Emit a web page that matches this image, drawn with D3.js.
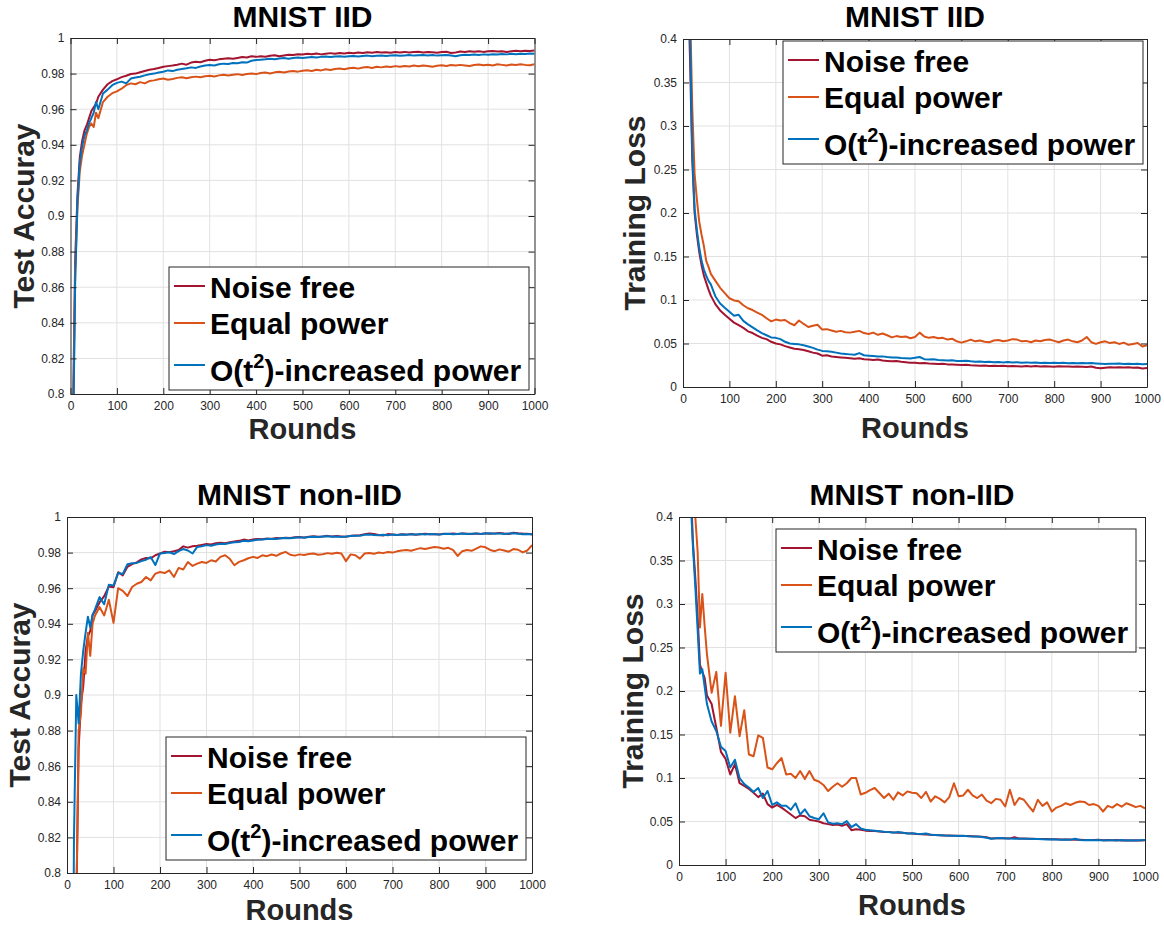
<!DOCTYPE html>
<html>
<head>
<meta charset="utf-8">
<script src="https://cdn.jsdelivr.net/npm/d3@7"></script>
<style>
  html, body { margin: 0; padding: 0; background: #fff; }
  svg { display: block; font-family: "Liberation Sans", Arial, Helvetica, sans-serif; }
</style>
</head>
<body>
<svg id="chart" width="1164" height="925"></svg>
<script>
// series labels and colours (MATLAB defaults)
const seriesNames = ["Noise free", "Equal power", "O(t2)-increased power"];
const seriesColors = ["#A2142F", "#D95319", "#0072BD"];

const roundTicks = [0, 100, 200, 300, 400, 500, 600, 700, 800, 900, 1000];
const accTicks = [0.8, 0.82, 0.84, 0.86, 0.88, 0.9, 0.92, 0.94, 0.96, 0.98, 1];
const lossTicks = [0, 0.05, 0.1, 0.15, 0.2, 0.25, 0.3, 0.35, 0.4];

// sampled rounds (denser at the start)
const rounds = [5, 10, 15, 20, 25, 30, 35, 40, 45, 50, 55, 60].concat(d3.range(70, 1001, 10));

// ---- MNIST IID, test accuracy
const accIidNoiseFree = [0.78, 0.875, 0.912, 0.933, 0.942, 0.948, 0.951, 0.955, 0.959, 0.961, 0.963, 0.967,
  0.971, 0.974, 0.9758, 0.9768, 0.978, 0.9788, 0.9798, 0.98, 0.9808, 0.9815,
  0.9822, 0.9826, 0.9832, 0.9838, 0.9842, 0.9845, 0.985, 0.9856, 0.985, 0.9862,
  0.9866, 0.9864, 0.9872, 0.9878, 0.9875, 0.988, 0.9884, 0.9886, 0.9883, 0.9888,
  0.9893, 0.989, 0.9897, 0.9894, 0.9898, 0.9895, 0.99, 0.9903, 0.9897, 0.9902,
  0.9906, 0.9904, 0.9909, 0.9907, 0.9911, 0.9909, 0.9913, 0.9908, 0.9912, 0.9915,
  0.9911, 0.9916, 0.9913, 0.9917, 0.9914, 0.9919, 0.9916, 0.992, 0.9917, 0.9921,
  0.9918, 0.992, 0.9917, 0.9921, 0.9919, 0.9922, 0.9918, 0.9921, 0.9923, 0.9919,
  0.9922, 0.992, 0.9917, 0.9921, 0.9923, 0.9916, 0.9919, 0.9924, 0.9922, 0.9925,
  0.9923, 0.9926, 0.9922, 0.9925, 0.9927, 0.9924, 0.9926, 0.9921, 0.9925, 0.9928,
  0.9926, 0.9929, 0.9927, 0.993];
const accIidEqual = [0.77, 0.868, 0.905, 0.925, 0.934, 0.94, 0.946, 0.95, 0.952, 0.95, 0.958, 0.955,
  0.964, 0.967, 0.969, 0.97, 0.9715, 0.9735, 0.9745, 0.974, 0.9752, 0.9745,
  0.9758, 0.9762, 0.9768, 0.9772, 0.9766, 0.977, 0.9776, 0.9779, 0.9774, 0.978,
  0.9783, 0.9779, 0.9785, 0.9788, 0.9784, 0.979, 0.9793, 0.9789, 0.9794, 0.9797,
  0.9792, 0.9798, 0.9801, 0.9797, 0.9803, 0.9806, 0.9801, 0.9807, 0.981, 0.9806,
  0.9812, 0.9815, 0.9811, 0.9816, 0.9819, 0.9815, 0.9822, 0.9818, 0.9824, 0.982,
  0.9826, 0.9829, 0.9824, 0.983, 0.9833, 0.9828, 0.9834, 0.9837, 0.9832, 0.9838,
  0.9835, 0.984, 0.9837, 0.9842, 0.9838, 0.9843, 0.984, 0.9845, 0.9841, 0.9846,
  0.9843, 0.9839, 0.9844, 0.9847, 0.9843, 0.9848, 0.9845, 0.9849, 0.9846, 0.9843,
  0.9848, 0.9851, 0.9847, 0.985, 0.9846, 0.9852, 0.9849, 0.9846, 0.9851, 0.9848,
  0.9852, 0.9849, 0.9847, 0.9852];
const accIidIncreased = [0.76, 0.862, 0.908, 0.93, 0.939, 0.945, 0.948, 0.952, 0.955, 0.958, 0.964, 0.96,
  0.9688, 0.971, 0.9735, 0.9748, 0.9755, 0.9745, 0.9772, 0.9778, 0.9782, 0.979,
  0.9796, 0.98, 0.9806, 0.981, 0.9818, 0.9814, 0.9822, 0.9826, 0.983, 0.9835,
  0.9832, 0.984, 0.9845, 0.9848, 0.9846, 0.9852, 0.9856, 0.9854, 0.986, 0.9858,
  0.9864, 0.9862, 0.9872, 0.9876, 0.9878, 0.988, 0.9883, 0.9881, 0.9885, 0.9887,
  0.9884, 0.9888, 0.989, 0.9888, 0.9891, 0.9893, 0.989, 0.9894, 0.9896, 0.9893,
  0.9896, 0.9898, 0.9895, 0.9897, 0.9899, 0.9896, 0.9899, 0.9901, 0.9897, 0.99,
  0.9902, 0.9899, 0.9901, 0.9903, 0.99, 0.9902, 0.9904, 0.9901, 0.9903, 0.9905,
  0.9902, 0.9904, 0.9901, 0.9903, 0.9905, 0.9902, 0.9898, 0.9903, 0.9906, 0.9904,
  0.9907, 0.9905, 0.9908, 0.9906, 0.9909, 0.9907, 0.991, 0.9908, 0.9911, 0.9909,
  0.9912, 0.991, 0.9913, 0.9912];

// ---- MNIST IID, training loss
const lossIidNoiseFree = [0.6, 0.48, 0.38, 0.26, 0.2, 0.175, 0.155, 0.14, 0.128, 0.12, 0.112, 0.105,
  0.095, 0.088, 0.083, 0.0785, 0.074, 0.071, 0.068, 0.064, 0.062, 0.059,
  0.0565, 0.055, 0.052, 0.05, 0.049, 0.047, 0.0455, 0.044, 0.0435, 0.0425,
  0.041, 0.0395, 0.0385, 0.036, 0.0365, 0.035, 0.0345, 0.034, 0.0335, 0.033,
  0.0325, 0.033, 0.032, 0.0315, 0.031, 0.0315, 0.0305, 0.03, 0.0295, 0.0298,
  0.029, 0.0285, 0.028, 0.0278, 0.0272, 0.0275, 0.027, 0.0268, 0.0265, 0.0268,
  0.026, 0.0258, 0.0255, 0.0252, 0.0256, 0.025, 0.0248, 0.0245, 0.0248, 0.0242,
  0.0245, 0.024, 0.0243, 0.0238, 0.0242, 0.0239, 0.0236, 0.024, 0.0237, 0.0241,
  0.0235, 0.0238, 0.0236, 0.0234, 0.0238, 0.0235, 0.0237, 0.0233, 0.0236, 0.0234,
  0.0231, 0.0235, 0.0222, 0.0216, 0.0222, 0.0226, 0.0224, 0.0227, 0.0223, 0.0226,
  0.0221, 0.0224, 0.0213, 0.0218];
const lossIidEqual = [0.6, 0.52, 0.44, 0.32, 0.245, 0.215, 0.19, 0.175, 0.162, 0.145, 0.138, 0.13,
  0.122, 0.114, 0.108, 0.102, 0.0995, 0.0985, 0.094, 0.0905, 0.0885, 0.0855,
  0.083, 0.079, 0.0755, 0.0775, 0.0765, 0.077, 0.0735, 0.071, 0.0765, 0.0725,
  0.069, 0.0705, 0.0715, 0.066, 0.0665, 0.065, 0.0635, 0.0645, 0.063, 0.0625,
  0.0635, 0.0645, 0.062, 0.061, 0.0625, 0.06, 0.0615, 0.0595, 0.057, 0.0585,
  0.0575, 0.058, 0.056, 0.0575, 0.0625, 0.058, 0.0565, 0.0575, 0.056, 0.0565,
  0.0545, 0.0555, 0.0525, 0.051, 0.0525, 0.0545, 0.0525, 0.0535, 0.052, 0.0515,
  0.0535, 0.054, 0.0525, 0.0535, 0.055, 0.0545, 0.0525, 0.053, 0.0515, 0.0535,
  0.0525, 0.054, 0.0545, 0.053, 0.0515, 0.0535, 0.0545, 0.0525, 0.0515, 0.0535,
  0.0575, 0.0515, 0.0495, 0.0515, 0.0525, 0.0505, 0.0515, 0.0495, 0.051, 0.0485,
  0.0495, 0.0505, 0.0465, 0.048];
const lossIidIncreased = [0.6, 0.5, 0.41, 0.27, 0.205, 0.18, 0.16, 0.145, 0.135, 0.128, 0.122, 0.118,
  0.104, 0.096, 0.091, 0.0865, 0.082, 0.083, 0.076, 0.072, 0.0685, 0.065,
  0.062, 0.0595, 0.057, 0.0565, 0.055, 0.052, 0.05, 0.0495, 0.049, 0.048,
  0.0465, 0.045, 0.043, 0.0415, 0.041, 0.0405, 0.0395, 0.0385, 0.038, 0.0375,
  0.037, 0.039, 0.0365, 0.036, 0.0355, 0.035, 0.0352, 0.0345, 0.034, 0.0338,
  0.0333, 0.033, 0.0328, 0.0335, 0.0345, 0.032, 0.0315, 0.0318, 0.031, 0.0308,
  0.0305, 0.0308, 0.03, 0.0298, 0.0302, 0.0295, 0.029, 0.0292, 0.0287, 0.029,
  0.0285, 0.0288, 0.0283, 0.0286, 0.0282, 0.0285, 0.028, 0.0283, 0.0278, 0.0281,
  0.0277, 0.028, 0.0276, 0.0279, 0.0276, 0.0278, 0.0274, 0.0277, 0.0273, 0.0276,
  0.0272, 0.0275, 0.0271, 0.0268, 0.0265, 0.0268, 0.0266, 0.0269, 0.0265, 0.0267,
  0.0264, 0.0266, 0.0262, 0.0264];

// ---- MNIST non-IID, test accuracy
const accNonIidNoiseFree = [0.5, 0.6, 0.7, 0.78, 0.87, 0.895, 0.905, 0.925, 0.933, 0.936, 0.945, 0.947,
  0.952, 0.9555, 0.961, 0.9605, 0.969, 0.9672, 0.972, 0.9735, 0.9745, 0.9762,
  0.977, 0.9768, 0.9785, 0.9795, 0.9805, 0.9802, 0.9808, 0.9815, 0.9835, 0.9828,
  0.9836, 0.9838, 0.9843, 0.9848, 0.9846, 0.9852, 0.9856, 0.9853, 0.9858, 0.9863,
  0.9866, 0.9873, 0.9868, 0.9874, 0.9877, 0.9875, 0.9879, 0.9877, 0.9882, 0.988,
  0.9884, 0.9882, 0.9886, 0.9888, 0.9885, 0.9889, 0.9892, 0.9889, 0.9891, 0.9894,
  0.989, 0.9893, 0.9891, 0.9889, 0.9894, 0.9896, 0.9898, 0.9903, 0.9908, 0.9905,
  0.9899, 0.9896, 0.9904, 0.9902, 0.9899, 0.9903, 0.9901, 0.9904, 0.99, 0.9903,
  0.9906, 0.9903, 0.9905, 0.9902, 0.9906, 0.9904, 0.9907, 0.9905, 0.9908, 0.9906,
  0.9904, 0.9907, 0.9905, 0.9909, 0.9906, 0.9908, 0.991, 0.9907, 0.9905, 0.9912,
  0.9909, 0.9907, 0.9906, 0.9903];
const accNonIidEqual = [0.4, 0.5, 0.65, 0.78, 0.88, 0.89, 0.915, 0.912, 0.935, 0.922, 0.94, 0.9445,
  0.9494, 0.9447, 0.9535, 0.9405, 0.96, 0.9585, 0.9556, 0.9607, 0.9625, 0.9635,
  0.9663, 0.9644, 0.9682, 0.9691, 0.9685, 0.97, 0.9663, 0.9714, 0.9705, 0.9747,
  0.9725, 0.9738, 0.9747, 0.9742, 0.9757, 0.975, 0.9776, 0.9785, 0.9765, 0.9729,
  0.9748, 0.9757, 0.9768, 0.9776, 0.977, 0.9785, 0.978, 0.9789, 0.9782, 0.9795,
  0.9804, 0.9788, 0.9783, 0.979, 0.9786, 0.9792, 0.9795, 0.9788, 0.9791, 0.9797,
  0.9793, 0.9799, 0.9795, 0.9752, 0.979, 0.9785, 0.9766, 0.9795, 0.9798, 0.9793,
  0.9801, 0.9797, 0.9803, 0.98, 0.9807, 0.9812, 0.9815, 0.981, 0.9818, 0.9825,
  0.982, 0.9826, 0.9832, 0.9829, 0.9822, 0.9827, 0.9815, 0.9781, 0.9808, 0.9815,
  0.981, 0.9822, 0.9835, 0.983, 0.9815, 0.9808, 0.9818, 0.9812, 0.9805, 0.982,
  0.9816, 0.9801, 0.9812, 0.9842];
const accNonIidIncreased = [0.5, 0.6, 0.82, 0.9, 0.884, 0.912, 0.925, 0.935, 0.944, 0.938, 0.945, 0.948,
  0.955, 0.951, 0.962, 0.9615, 0.9685, 0.968, 0.9735, 0.974, 0.9742, 0.9752,
  0.976, 0.9775, 0.973, 0.9795, 0.9798, 0.9802, 0.9792, 0.9808, 0.982, 0.9812,
  0.9795, 0.9832, 0.9836, 0.9842, 0.9838, 0.9845, 0.985, 0.9848, 0.9854, 0.9858,
  0.986, 0.9866, 0.9864, 0.9868, 0.9872, 0.9874, 0.9876, 0.9878, 0.9877, 0.988,
  0.9882, 0.9881, 0.9884, 0.9886, 0.9884, 0.9887, 0.9889, 0.9887, 0.989, 0.9892,
  0.9889, 0.9891, 0.9888, 0.989, 0.9893, 0.9895, 0.9894, 0.99, 0.9902, 0.9899,
  0.9897, 0.99, 0.9898, 0.9901, 0.9899, 0.9902, 0.99, 0.9903, 0.9901, 0.9904,
  0.9902, 0.9905, 0.9903, 0.9901, 0.9904, 0.9906, 0.9903, 0.9905, 0.9907, 0.9904,
  0.9906, 0.9908, 0.9905, 0.9907, 0.9909, 0.9906, 0.9908, 0.9905, 0.9907, 0.9909,
  0.9906, 0.9903, 0.9905, 0.9902];

// ---- MNIST non-IID, training loss
const lossNonIidNoiseFree = [0.9, 0.8, 0.7, 0.55, 0.44, 0.37, 0.33, 0.285, 0.23, 0.222, 0.215, 0.195,
  0.185, 0.158, 0.13, 0.122, 0.104, 0.116, 0.094, 0.091, 0.0875, 0.083,
  0.078, 0.082, 0.07, 0.066, 0.069, 0.066, 0.062, 0.058, 0.054, 0.057,
  0.056, 0.052, 0.051, 0.05, 0.048, 0.047, 0.046, 0.0465, 0.045, 0.047,
  0.04, 0.041, 0.0405, 0.0395, 0.0392, 0.039, 0.0385, 0.038, 0.0378, 0.0375,
  0.0372, 0.037, 0.0365, 0.0362, 0.0355, 0.0352, 0.035, 0.0348, 0.0345, 0.0342,
  0.034, 0.0338, 0.0336, 0.0335, 0.0334, 0.0332, 0.033, 0.0328, 0.0325, 0.0318,
  0.0305, 0.0308, 0.031, 0.0308, 0.0306, 0.0318, 0.0305, 0.0304, 0.0303, 0.0301,
  0.03, 0.0299, 0.0298, 0.0296, 0.0295, 0.0294, 0.0293, 0.0292, 0.029, 0.0289,
  0.0288, 0.0287, 0.0286, 0.0289, 0.0285, 0.0286, 0.0284, 0.0286, 0.0283, 0.0285,
  0.0282, 0.0284, 0.0283, 0.0285];
const lossNonIidEqual = [1.0, 0.95, 0.85, 0.72, 0.6, 0.48, 0.4, 0.36, 0.273, 0.3115, 0.275, 0.242,
  0.198, 0.222, 0.16, 0.221, 0.152, 0.194, 0.148, 0.178, 0.127, 0.125,
  0.149, 0.146, 0.112, 0.11, 0.117, 0.123, 0.104, 0.105, 0.1, 0.108,
  0.099, 0.108, 0.098, 0.096, 0.092, 0.085, 0.09, 0.094, 0.09, 0.094,
  0.1, 0.1, 0.081, 0.083, 0.086, 0.0885, 0.0827, 0.077, 0.082, 0.075,
  0.0835, 0.08, 0.0846, 0.083, 0.0825, 0.077, 0.084, 0.073, 0.079, 0.076,
  0.072, 0.078, 0.094, 0.079, 0.08, 0.0865, 0.08, 0.077, 0.081, 0.074,
  0.071, 0.076, 0.075, 0.0673, 0.0865, 0.069, 0.077, 0.075, 0.068, 0.0615,
  0.075, 0.068, 0.072, 0.0615, 0.066, 0.068, 0.071, 0.069, 0.0715, 0.073,
  0.0725, 0.069, 0.07, 0.068, 0.0615, 0.068, 0.066, 0.07, 0.067, 0.071,
  0.069, 0.0665, 0.068, 0.065];
const lossNonIidIncreased = [0.9, 0.78, 0.66, 0.52, 0.42, 0.365, 0.32, 0.27, 0.22, 0.225, 0.205, 0.185,
  0.165, 0.154, 0.136, 0.131, 0.112, 0.121, 0.1, 0.093, 0.089, 0.084,
  0.0885, 0.077, 0.085, 0.069, 0.072, 0.068, 0.068, 0.0635, 0.071, 0.058,
  0.064, 0.056, 0.054, 0.0525, 0.0595, 0.049, 0.0475, 0.048, 0.047, 0.0505,
  0.0435, 0.047, 0.042, 0.0405, 0.04, 0.0395, 0.0388, 0.0382, 0.0378, 0.0372,
  0.038, 0.037, 0.0362, 0.0366, 0.0358, 0.0355, 0.0362, 0.0347, 0.0345, 0.0343,
  0.0339, 0.0337, 0.0336, 0.0334, 0.0336, 0.0331, 0.0329, 0.0327, 0.0322, 0.0314,
  0.0302, 0.0307, 0.0309, 0.0306, 0.0304, 0.0303, 0.0302, 0.0301, 0.0303, 0.03,
  0.0298, 0.0296, 0.0294, 0.0295, 0.0292, 0.0291, 0.0293, 0.0289, 0.0302, 0.0287,
  0.0284, 0.0286, 0.0285, 0.0288, 0.0283, 0.0285, 0.0284, 0.0282, 0.0286, 0.0283,
  0.0284, 0.0282, 0.0285, 0.0287];

const axisColor = "#262626"
, gridColor = "#e1e1e1"
, tickLen = 6;

const svg = d3.select("#chart");

const panels = [
  {id: "p1", title: "MNIST IID", yLabel: "Test Accuray", yTicks: accTicks, yDomain: [0.8, 1],
   series: [accIidNoiseFree, accIidEqual, accIidIncreased],
   left: 70.5, right: 534.5, top: 38, bottom: 394,
   titleY: 27, xLabelY: 439, yLabelX: 34, legendX: 169, legendY: 267},
  {id: "p2", title: "MNIST IID", yLabel: "Training Loss", yTicks: lossTicks, yDomain: [0, 0.4],
   series: [lossIidNoiseFree, lossIidEqual, lossIidIncreased],
   left: 683, right: 1147, top: 39, bottom: 387,
   titleY: 27, xLabelY: 438, yLabelX: 645, legendX: 783, legendY: 41},
  {id: "p3", title: "MNIST non-IID", yLabel: "Test Accuray", yTicks: accTicks, yDomain: [0.8, 1],
   series: [accNonIidNoiseFree, accNonIidEqual, accNonIidIncreased],
   left: 67, right: 532, top: 517, bottom: 873,
   titleY: 505, xLabelY: 920, yLabelX: 30, legendX: 166, legendY: 737},
  {id: "p4", title: "MNIST non-IID", yLabel: "Training Loss", yTicks: lossTicks, yDomain: [0, 0.4],
   series: [lossNonIidNoiseFree, lossNonIidEqual, lossNonIidIncreased],
   left: 679, right: 1145, top: 517, bottom: 865,
   titleY: 505, xLabelY: 915, yLabelX: 643, legendX: 776, legendY: 529}
];

const fmtY = d3.format("~g")
, fmtX = d3.format("d");

function drawPanel(p) {
  const x = d3.scaleLinear().domain([0, 1000]).range([p.left, p.right]);
  const y = d3.scaleLinear().domain(p.yDomain).range([p.bottom, p.top]);
  const g = svg.append("g").attr("class", p.id);

  svg.append("clipPath").attr("id", "clip-" + p.id)
    .append("rect")
    .attr("x", p.left).attr("y", p.top)
    .attr("width", p.right - p.left).attr("height", p.bottom - p.top);

  // grid
  g.append("g").selectAll("line").data(roundTicks.slice(1, -1)).join("line")
    .attr("x1", d => x(d)).attr("x2", d => x(d))
    .attr("y1", p.top).attr("y2", p.bottom)
    .attr("stroke", gridColor);
  g.append("g").selectAll("line").data(p.yTicks.slice(1, -1)).join("line")
    .attr("x1", p.left).attr("x2", p.right)
    .attr("y1", d => y(d)).attr("y2", d => y(d))
    .attr("stroke", gridColor);

  // lines
  const line = d3.line()
    .x((d, i) => x(rounds[i]))
    .y(d => y(d));
  g.append("g").attr("clip-path", `url(#clip-${p.id})`)
    .selectAll("path").data(p.series).join("path")
    .attr("d", d => line(d))
    .attr("fill", "none")
    .attr("stroke", (d, i) => seriesColors[i])
    .attr("stroke-width", 2)
    .attr("stroke-linejoin", "round");

  // axes, ticks pointing inward on all four sides
  const xAxisG = g.append("g").attr("transform", `translate(0,${p.bottom})`)
    .call(d3.axisBottom(x).tickValues(roundTicks).tickFormat(fmtX).tickSize(-tickLen).tickSizeOuter(0).tickPadding(7));
  const yAxisG = g.append("g").attr("transform", `translate(${p.left},0)`)
    .call(d3.axisLeft(y).tickValues(p.yTicks).tickFormat(fmtY).tickSize(-tickLen).tickSizeOuter(0).tickPadding(6));
  const topG = g.append("g").attr("transform", `translate(0,${p.top})`)
    .call(d3.axisTop(x).tickValues(roundTicks).tickFormat("").tickSize(-tickLen).tickSizeOuter(0));
  const rightG = g.append("g").attr("transform", `translate(${p.right},0)`)
    .call(d3.axisRight(y).tickValues(p.yTicks).tickFormat("").tickSize(-tickLen).tickSizeOuter(0));

  [xAxisG, yAxisG, topG, rightG].forEach(a => {
    a.attr("font-family", null).attr("font-size", 12);
    a.selectAll("path, line").attr("stroke", axisColor);
    a.selectAll("text").attr("fill", axisColor);
  });

  // title and axis labels
  g.append("text")
    .attr("x", (p.left + p.right) / 2).attr("y", p.titleY)
    .attr("text-anchor", "middle")
    .attr("font-size", 30).attr("font-weight", "bold").attr("fill", "#000")
    .text(p.title);
  g.append("text")
    .attr("x", (p.left + p.right) / 2).attr("y", p.xLabelY)
    .attr("text-anchor", "middle")
    .attr("font-size", 29).attr("font-weight", "bold").attr("fill", axisColor)
    .text("Rounds");
  g.append("text")
    .attr("transform", `translate(${p.yLabelX},${(p.top + p.bottom) / 2}) rotate(-90)`)
    .attr("text-anchor", "middle")
    .attr("font-size", 30).attr("font-weight", "bold").attr("fill", axisColor)
    .text(p.yLabel);

  // legend
  const lg = g.append("g").attr("transform", `translate(${p.legendX},${p.legendY})`);
  lg.append("rect")
    .attr("width", 360).attr("height", 123)
    .attr("fill", "#fff").attr("stroke", axisColor).attr("stroke-width", 1);
  const lineYs = [19, 56, 98], textYs = [31, 67, 114];
  seriesNames.forEach((name, i) => {
    lg.append("line")
      .attr("x1", 5).attr("x2", 36)
      .attr("y1", lineYs[i]).attr("y2", lineYs[i])
      .attr("stroke", seriesColors[i]).attr("stroke-width", 2);
    const t = lg.append("text")
      .attr("x", 41).attr("y", textYs[i])
      .attr("font-size", 30).attr("font-weight", "bold").attr("fill", "#000");
    if (i === 2) {
      t.append("tspan").text("O(t");
      t.append("tspan").attr("dy", -13).attr("font-size", 20).text("2");
      t.append("tspan").attr("dy", 13).text(")-increased power");
    } else {
      t.text(name);
    }
  });
}

panels.forEach(drawPanel);
</script>
</body>
</html>
